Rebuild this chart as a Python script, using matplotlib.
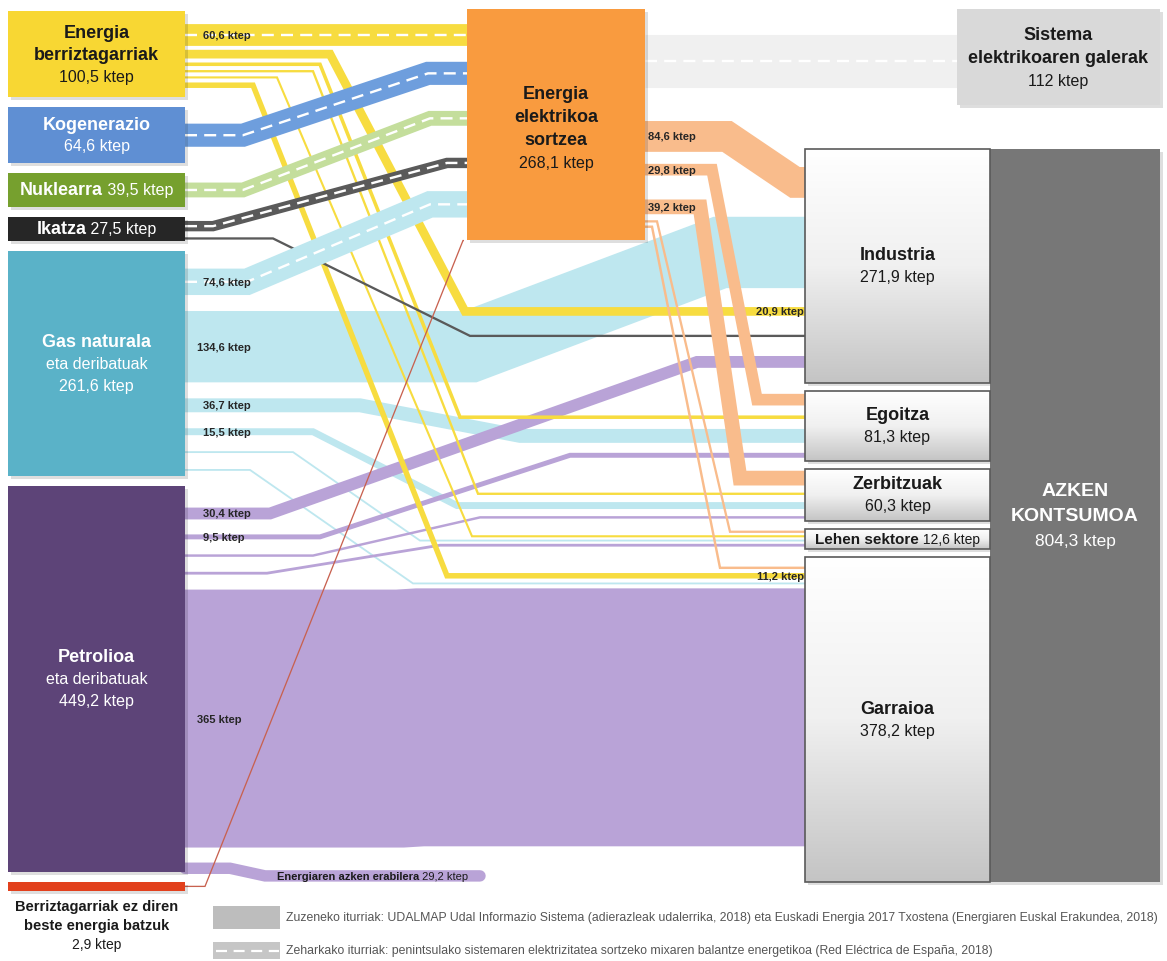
import numpy as np
import matplotlib.pyplot as plt
from matplotlib.patches import Rectangle
from matplotlib.colors import LinearSegmentedColormap

plt.rcParams['font.family'] = ['Liberation Sans Narrow', 'Liberation Sans', 'DejaVu Sans']

# energy sources (left column), ktep
sources = ['Energia berriztagarriak', 'Kogenerazio', 'Nuklearra', 'Ikatza',
           'Gas naturala', 'Petrolioa', 'Berriztagarriak ez diren beste energia batzuk']
source_values = [100.5, 64.6, 39.5, 27.5, 261.6, 449.2, 2.9]

# final consumption sectors (right column), ktep
sectors = ['Industria', 'Egoitza', 'Zerbitzuak', 'Lehen sektore', 'Garraioa']
sector_values = [271.9, 81.3, 60.3, 12.6, 378.2]

elec = 'Energia elektrikoa sortzea'
elec_value = 268.1
losses = 'Sistema elektrikoaren galerak'
losses_value = 112
non_energy = 'Energiaren azken erabilera'
total_value = 804.3

# flows between nodes, ktep
flow_from = ['Energia berriztagarriak'] * 6 + ['Kogenerazio', 'Nuklearra', 'Ikatza', 'Ikatza'] \
    + ['Gas naturala'] * 6 + ['Petrolioa'] * 6 \
    + ['Berriztagarriak ez diren beste energia batzuk'] + [elec] * 6
flow_to = [elec, 'Industria', 'Egoitza', 'Zerbitzuak', 'Lehen sektore', 'Garraioa',
           elec, elec, elec, 'Industria',
           elec, 'Industria', 'Egoitza', 'Zerbitzuak', 'Lehen sektore', 'Garraioa',
           'Industria', 'Egoitza', 'Zerbitzuak', 'Lehen sektore', 'Garraioa', non_energy,
           elec,
           losses, 'Industria', 'Egoitza', 'Zerbitzuak', 'Lehen sektore', 'Garraioa']
flow_values = [60.6, 20.9, 5.3, 1.6, 0.9, 11.2,
               64.6, 39.5, 26.0, 1.5,
               74.6, 134.6, 36.7, 15.5, 0.1, 0.1,
               30.4, 9.5, 2.0, 3.0, 365, 29.2,
               2.9,
               112, 84.6, 29.8, 39.2, 1.5, 1.9]

# ---------------- layout ----------------
fig = plt.figure(figsize=(11.67, 9.62), dpi=100)
ax = fig.add_axes([0, 0, 1, 1])
PT = 72 / 100          # points per pixel
K = 0.86               # node height, px per ktep


def band_width(v):
    return max(0.33 * v + 1.8, 0.81 * v - 37.7)


def fmt(v):
    return ('%g' % v).replace('.', ',') + ' ktep'


nodes = {}
y = 12
for name, v in zip(sources, source_values):
    h = max(v * K, 9)
    nodes[name] = (8, 185, y, y + h)
    y += h + 10
y = 150
for name, v in zip(sectors, sector_values):
    h = max(v * K, 20)
    nodes[name] = (805, 990, y, y + h)
    y += h + 8
nodes[elec] = (467, 645, 10, 10 + elec_value * K)
nodes[losses] = (957, 1160, 10, 10 + losses_value * K)
pet_box = nodes['Petrolioa']
nodes[non_energy] = (480, 480, pet_box[3] + 4, pet_box[3] + 4)

out_layout = {
    'Energia berriztagarriak': ('pack', 13, 4),
    'Ikatza': ('spread', 4, 1),
    'Gas naturala': ('pack', 18, 16),
    'Petrolioa': ('pack', 22, 15),
    elec: ('pack', 25, [34, 12, 24, 6, 3]),
}
in_layout = {
    elec: ('pack', 15, [16, 26, 32, 23]),
    losses: ('pack', 25, 0),
    'Industria': ('spread', 18, 15),
    'Egoitza': ('spread', 3, 3),
    'Zerbitzuak': ('spread', 2, 2),
    'Lehen sektore': ('spread', 2, 2),
    'Garraioa': ('pack', 10, 4),
}
arrival = {
    elec: ['Energia berriztagarriak', 'Kogenerazio', 'Nuklearra', 'Ikatza', 'Gas naturala'],
    'Industria': [elec, 'Gas naturala', 'Energia berriztagarriak', 'Ikatza', 'Petrolioa'],
}
default_arrival = [elec, 'Energia berriztagarriak', 'Gas naturala', 'Petrolioa']

# bend points of each flow (x where the diagonal starts / ends)
routes = [(300, 320), (330, 465), (320, 460), (313, 478), (277, 472), (253, 447),
          (243, 428), (243, 430), (213, 447), (273, 470),
          (247, 430), (470, 720), (360, 520), (313, 457), (293, 420), (250, 413),
          (270, 697), (320, 570), (313, 480), (267, 440), (400, 420), (230, 265),
          (205, 463),
          (700, 720), (727, 795), (712, 757), (700, 740), (657, 730), (652, 720)]

colors = {
    'Energia berriztagarriak': ('#f8d733', '#f7dc40'),
    'Kogenerazio': ('#5f8fd3', '#6e9edd'),
    'Nuklearra': ('#76a02e', '#c4de9c'),
    'Ikatza': ('#262626', '#5a5a5a'),
    'Gas naturala': ('#5ab2c8', '#bee7ef'),
    'Petrolioa': ('#5d4478', '#b9a3d7'),
    'Berriztagarriak ez diren beste energia batzuk': ('#e2401c', '#c8614f'),
    elec: ('#f99b3f', '#f9bc8c'),
}
zorders = {'Gas naturala': 1, 'Petrolioa': 1.5, 'Energia berriztagarriak': 2,
           'Ikatza': 2.5, elec: 3.5, 'Berriztagarriak ez diren beste energia batzuk': 4}


def stack(box, widths, spec):
    mode, a, b = spec
    y0, y1 = box[2], box[3]
    n = len(widths)
    centers = []
    if mode == 'pack':
        gaps = b if isinstance(b, list) else [b] * n
        yy = y0 + a
        for i, w in enumerate(widths):
            centers.append(yy + w / 2)
            yy += w + (gaps[i] if i < len(gaps) else 0)
        return centers
    top, bot = y0 + a, y1 - b
    if n == 1:
        return [(top + bot) / 2]
    free = (bot - top - sum(widths)) / (n - 1)
    yy = top
    for w in widths:
        centers.append(yy + w / 2)
        yy += w + free
    return centers


red_src = sources[-1]
widths = [band_width(v) for v in flow_values]
y_out = [0] * len(flow_values)
y_in = [0] * len(flow_values)
for name in nodes:
    idx = [i for i, s in enumerate(flow_from) if s == name]
    if idx:
        cs = stack(nodes[name], [widths[i] for i in idx], out_layout.get(name, ('spread', 0, 0)))
        for i, c in zip(idx, cs):
            y_out[i] = c
    idx = [i for i, t in enumerate(flow_to) if t == name and flow_from[i] != red_src]
    if idx:
        order = arrival.get(name, default_arrival)
        idx.sort(key=lambda i: order.index(flow_from[i]) if flow_from[i] in order else 99)
        cs = stack(nodes[name], [widths[i] for i in idx], in_layout.get(name, ('spread', 0, 0)))
        for i, c in zip(idx, cs):
            y_in[i] = c

# ---------------- flows ----------------
paths = []
for i, (s, t, v) in enumerate(zip(flow_from, flow_to, flow_values)):
    xs0 = nodes[s][1]
    xe = nodes[t][0]
    xa, xb = routes[i]
    yi = y_in[i]
    if s == red_src:
        xe, yi = nodes[t][0] - 3, nodes[t][3] + 1
    xs = [xs0, xa, xb, xe]
    ys = [y_out[i], y_out[i], yi, yi]
    paths.append((xs, ys))
    if t == losses:
        col, z = '#f0f0f0', 0.5
    else:
        col, z = colors[s][1], zorders.get(s, 3)
    lw = widths[i]
    cap = 'butt'
    if s == red_src:
        lw = 1.3
    if t == non_energy:
        cap = 'round'
    dashed = (t == elec and s != red_src) or t == losses
    if dashed and t != losses:
        z = 3
    ax.plot(xs, ys, color=col, lw=lw * PT, solid_joinstyle='miter',
            solid_capstyle=cap, zorder=z)
    if dashed:
        ax.plot(xs, ys, color='white', lw=2.4 * PT, dashes=(5, 3),
                solid_joinstyle='miter', zorder=z + 0.05)

# flow value labels
start_labels = [0, 10, 11, 12, 13, 16, 17, 20, 24, 25, 26]
end_labels = [1, 5]
for i in start_labels:
    xs, ys = paths[i]
    off = 3 if flow_from[i] == elec else (12 if flow_values[i] > 100 else 18)
    ax.text(xs[0] + off, ys[0], fmt(flow_values[i]), fontsize=8, fontweight='bold',
            color='#262626', va='center', ha='left', zorder=6)
for i in end_labels:
    xs, ys = paths[i]
    ax.text(xs[-1] - 1, ys[-1], fmt(flow_values[i]), fontsize=8, fontweight='bold',
            color='#262626', va='center', ha='right', zorder=6)

# ---------------- nodes ----------------
renderer = fig.canvas.get_renderer()


def shadow(x0, x1, y0, y1):
    ax.add_patch(Rectangle((x0 + 3, y0 + 3), x1 - x0, y1 - y0, color='black',
                           alpha=0.13, lw=0, zorder=4.8))


def block(cx, cy, lines, color, size=13, step=22, vsize=None):
    top = cy - step * (len(lines) - 1) / 2
    for k, (txt, wt) in enumerate(lines):
        fs = size if wt == 'bold' else (vsize or size - 1.5)
        ax.text(cx, top + k * step, txt, fontsize=fs,
                fontweight=wt, color=color, ha='center', va='center', zorder=7)


def mixed(x, y, parts, color, size=13, ha='center'):
    texts = [ax.text(x, y, s, fontsize=sz, fontweight=wt, color=color,
                     ha='left', va='center', zorder=7) for s, wt, sz in parts]
    ws = [t.get_window_extent(renderer).width for t in texts]
    x0 = x - sum(ws) / 2 if ha == 'center' else x
    for t, w in zip(texts, ws):
        t.set_x(x0)
        x0 += w


for name, v in zip(sources, source_values):
    x0, x1, y0, y1 = nodes[name]
    shadow(x0, x1, y0, y1)
    ax.add_patch(Rectangle((x0, y0), x1 - x0, y1 - y0, color=colors[name][0], lw=0, zorder=5))
    cx, cy = (x0 + x1) / 2, (y0 + y1) / 2
    if name == 'Energia berriztagarriak':
        block(cx, cy, [('Energia', 'bold'), ('berriztagarriak', 'bold'), (fmt(v), 'normal')], '#1a1a1a')
    elif name in ('Nuklearra', 'Ikatza'):
        mixed(cx, cy, [(name, 'bold', 13), (' ' + fmt(v), 'normal', 11.5)], 'white')
    elif name in ('Gas naturala', 'Petrolioa'):
        block(cx, cy, [(name, 'bold'), ('eta deribatuak', 'normal'), (fmt(v), 'normal')], 'white')
    elif name == red_src:
        block(cx, y1 + 34, [('Berriztagarriak ez diren', 'bold'), ('beste energia batzuk', 'bold'),
                            (fmt(v), 'normal')], '#1a1a1a', size=10.5, step=19, vsize=10)
    else:
        block(cx, cy, [(name, 'bold'), (fmt(v), 'normal')], 'white', step=21)

# electricity generation
x0, x1, y0, y1 = nodes[elec]
shadow(x0, x1, y0, y1)
ax.add_patch(Rectangle((x0, y0), x1 - x0, y1 - y0, color=colors[elec][0], lw=0, zorder=5))
block((x0 + x1) / 2, 129, [('Energia', 'bold'), ('elektrikoa', 'bold'), ('sortzea', 'bold'),
                            (fmt(elec_value), 'normal')], '#1a1a1a', step=23)

# losses
x0, x1, y0, y1 = nodes[losses]
shadow(x0, x1, y0, y1)
ax.add_patch(Rectangle((x0, y0), x1 - x0, y1 - y0, color='#d9d9d9', lw=0, zorder=5))
block((x0 + x1) / 2, (y0 + y1) / 2, [('Sistema', 'bold'), ('elektrikoaren galerak', 'bold'),
                                      (fmt(losses_value), 'normal')], '#1a1a1a', step=23)

# final consumption total
tx0, tx1 = 990, 1160
ty0, ty1 = nodes[sectors[0]][2], nodes[sectors[-1]][3]
shadow(tx0, tx1, ty0, ty1)
ax.add_patch(Rectangle((tx0, ty0), tx1 - tx0, ty1 - ty0, color='#777777', lw=0, zorder=5))
block((tx0 + tx1) / 2, (ty0 + ty1) / 2, [('AZKEN', 'bold'), ('KONTSUMOA', 'bold'),
                                         (fmt(total_value), 'normal')], 'white', size=14, step=25)

# sectors with grey gradient
grad = LinearSegmentedColormap.from_list('g', ['#ffffff', '#f0f0f0', '#c4c4c4'])
for name, v in zip(sectors, sector_values):
    x0, x1, y0, y1 = nodes[name]
    shadow(x0, x1, y0, y1)
    ax.imshow(np.linspace(0, 1, 256).reshape(-1, 1), cmap=grad, extent=(x0, x1, y1, y0),
              aspect='auto', zorder=5, interpolation='bicubic')
    ax.add_patch(Rectangle((x0, y0), x1 - x0, y1 - y0, fill=False, ec='#5a5a5a', lw=1.2, zorder=5.2))
    cx, cy = (x0 + x1) / 2, (y0 + y1) / 2
    if name == 'Lehen sektore':
        mixed(cx, cy, [(name, 'bold', 11), (' ' + fmt(v), 'normal', 10)], '#1a1a1a')
    else:
        block(cx, cy, [(name, 'bold'), (fmt(v), 'normal')], '#1a1a1a', step=22)

# non-energy final use label
ne = flow_to.index(non_energy)
mixed(paths[ne][0][2] + 12, paths[ne][1][-1],
      [(non_energy, 'bold', 8), (' ' + fmt(flow_values[ne]), 'normal', 8)], '#1a1a1a', ha='left')

# ---------------- legend ----------------
ax.add_patch(Rectangle((213, 907), 67, 23, color='#bdbdbd', lw=0))
ax.add_patch(Rectangle((213, 943), 67, 17, color='#c6c6c6', lw=0))
ax.plot([216, 279], [951.5, 951.5], color='white', lw=2.2 * PT, dashes=(5, 3))
leg1 = ('Zuzeneko iturriak: UDALMAP Udal Informazio Sistema (adierazleak udalerrika, 2018) eta '
        'Euskadi Energia 2017 Txostena (Energiaren Euskal Erakundea, 2018)')
leg2 = ('Zeharkako iturriak: penintsulako sistemaren elektrizitatea sortzeko mixaren balantze '
        'energetikoa (Red Eléctrica de España, 2018)')
t1 = ax.text(286, 918.5, leg1, fontsize=9, color='#555555', va='center')
t2 = ax.text(286, 951.5, leg2, fontsize=9, color='#555555', va='center')
w1 = t1.get_window_extent(renderer).width
fs = 9 * 872 / w1
t1.set_fontsize(fs)
t2.set_fontsize(fs)

ax.set_xlim(0, 1167)
ax.set_ylim(962, 0)
ax.set_aspect('auto')
ax.axis('off')
fig.savefig('out.png', dpi=100)
